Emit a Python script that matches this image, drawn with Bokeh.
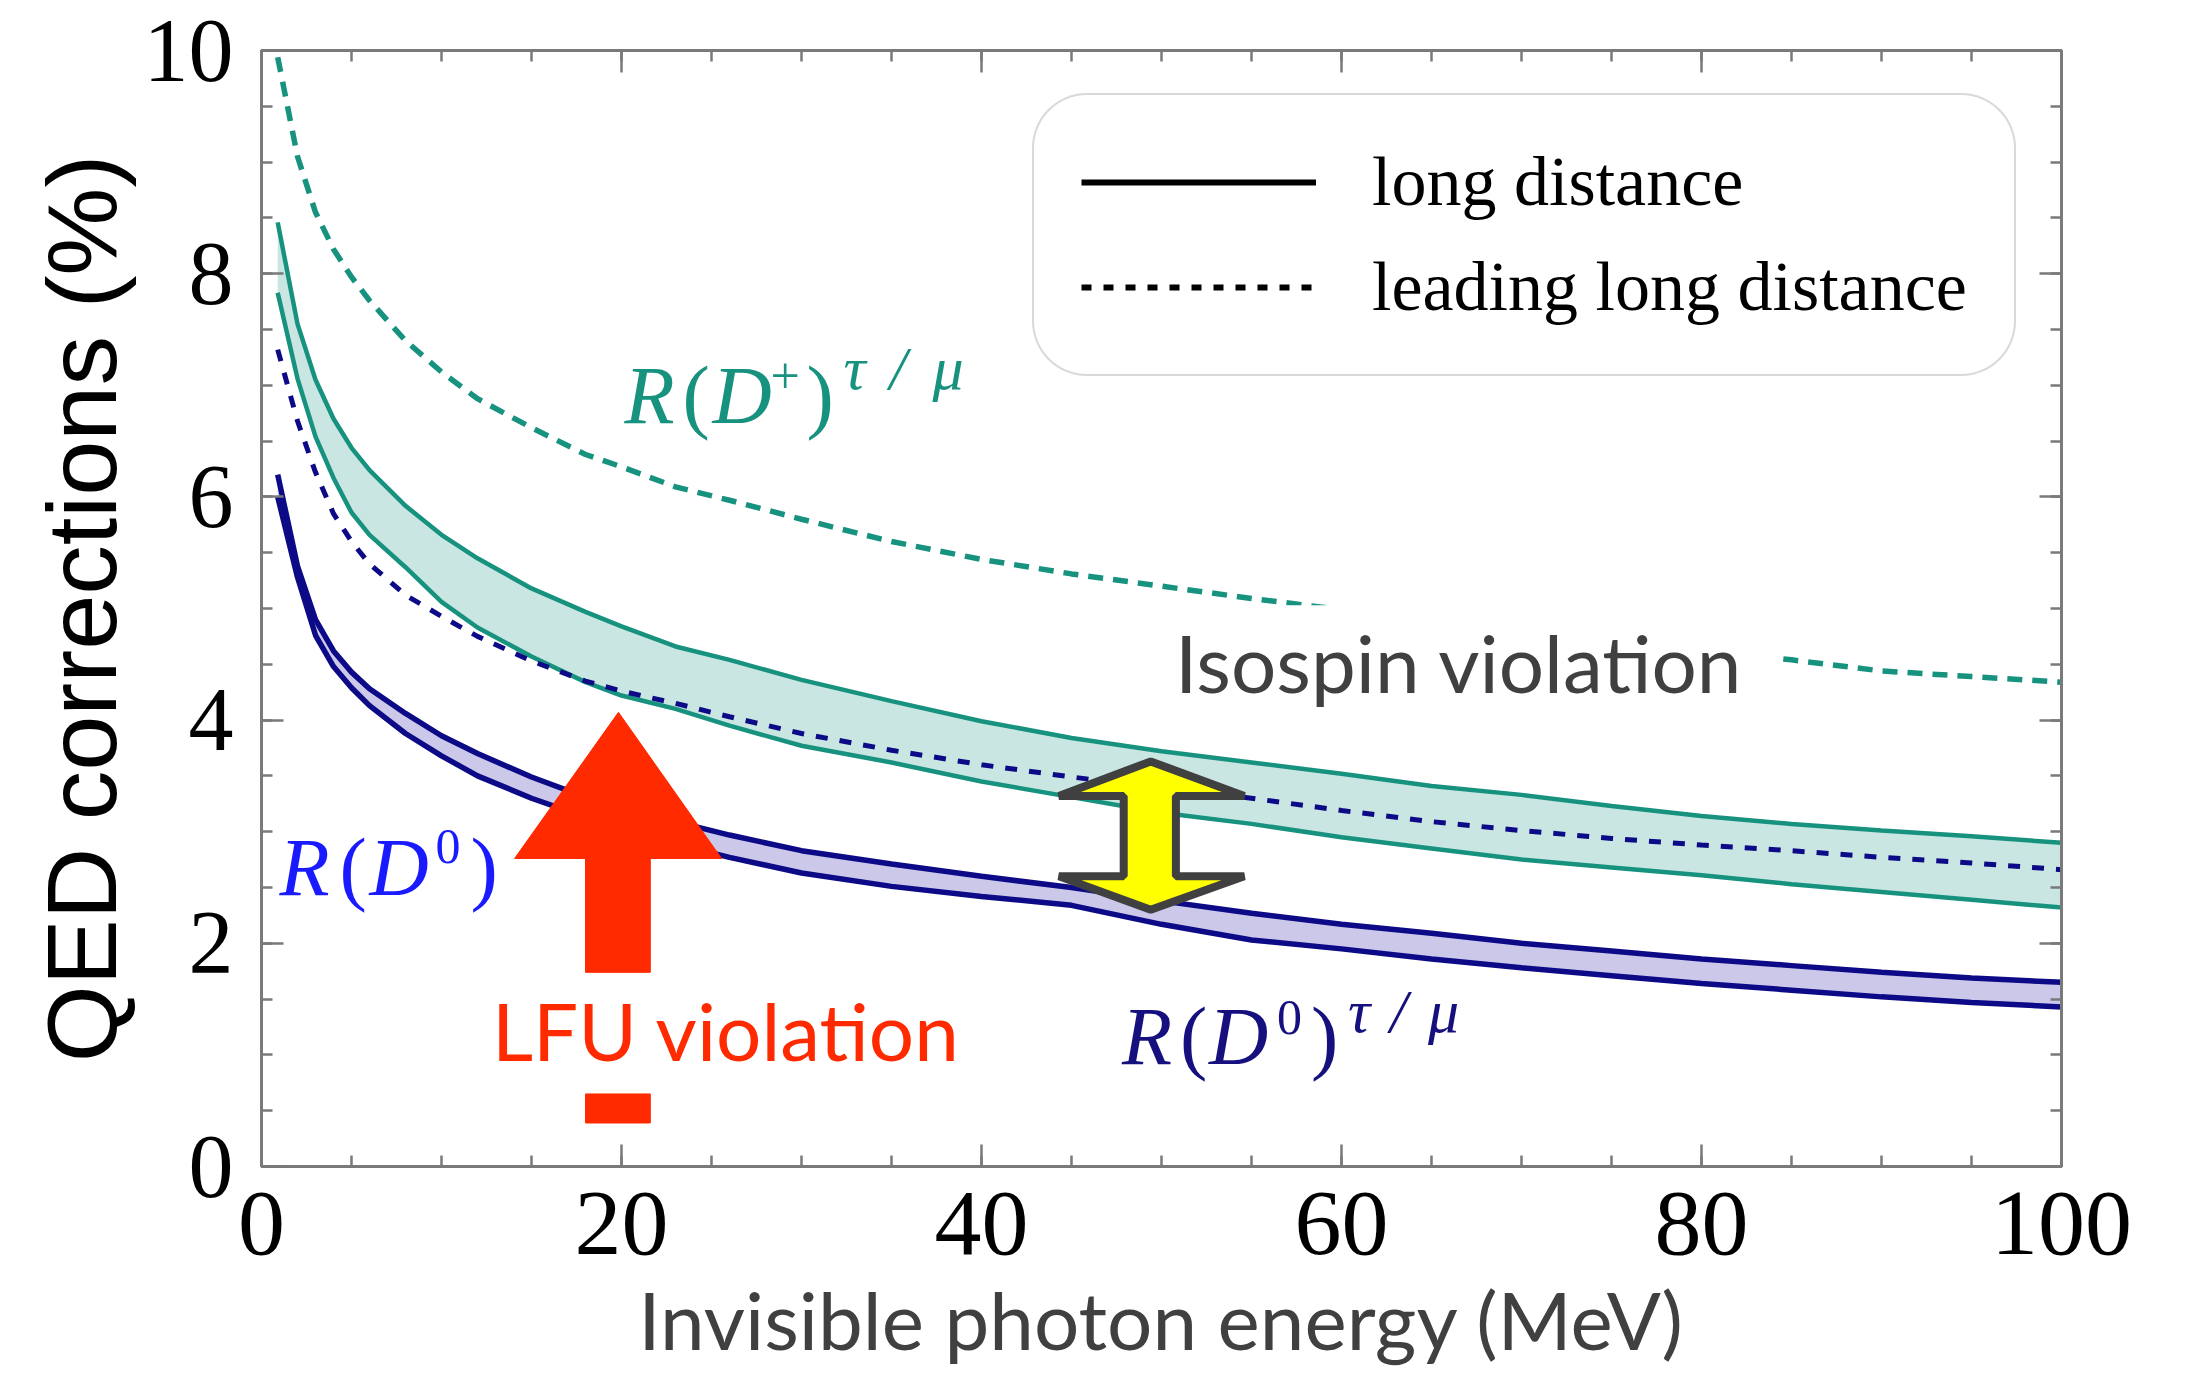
from bokeh.plotting import figure
from bokeh.models import (Range1d, LinearAxis, SingleIntervalTicker, Label,
                          Legend, LegendItem, CustomJSTickFormatter)
from bokeh.embed import file_html
from bokeh.resources import INLINE

# ---------------- data ----------------
energy = [0.9, 2, 3, 4, 5, 6, 8, 10, 12, 15, 18, 20, 23, 26, 30, 35, 40, 45,
          50, 55, 60, 65, 70, 75, 80, 85, 90, 95, 100]

# R(D+)^{tau/mu}, leading long distance (teal dashed)
rdp_leading = [9.94, 9.05, 8.55, 8.22, 7.97, 7.76, 7.40, 7.12, 6.88, 6.62, 6.38,
               6.27, 6.09, 5.97, 5.80, 5.60, 5.44, 5.31, 5.20, 5.09, 4.99, 4.90,
               4.81, 4.72, 4.63, 4.54, 4.44, 4.39, 4.34]
# R(D+)^{tau/mu}, long distance band (teal)
rdp_upper = [8.46, 7.55, 7.05, 6.70, 6.44, 6.24, 5.92, 5.66, 5.45, 5.18, 4.97,
             4.84, 4.66, 4.54, 4.36, 4.17, 3.99, 3.84, 3.72, 3.62, 3.52, 3.41,
             3.33, 3.23, 3.14, 3.07, 3.01, 2.96, 2.90]
rdp_lower = [7.83, 7.06, 6.54, 6.17, 5.86, 5.66, 5.37, 5.06, 4.83, 4.57, 4.34,
             4.22, 4.10, 3.95, 3.77, 3.62, 3.45, 3.31, 3.17, 3.07, 2.95, 2.85,
             2.75, 2.68, 2.61, 2.53, 2.46, 2.39, 2.32]
# R(D0)^{tau/mu}, leading long distance (navy dashed)
rd0_leading = [7.32, 6.68, 6.22, 5.85, 5.60, 5.40, 5.12, 4.93, 4.75, 4.53, 4.35,
               4.26, 4.15, 4.03, 3.88, 3.73, 3.60, 3.49, 3.39, 3.30, 3.19, 3.09,
               3.01, 2.94, 2.88, 2.83, 2.77, 2.72, 2.66]
# R(D0)^{tau/mu}, long distance band (navy)
rd0_upper = [6.20, 5.38, 4.90, 4.62, 4.43, 4.28, 4.06, 3.86, 3.70, 3.49, 3.31,
             3.21, 3.09, 2.97, 2.83, 2.71, 2.60, 2.50, 2.38, 2.27, 2.17, 2.09,
             2.00, 1.93, 1.86, 1.80, 1.74, 1.69, 1.65]
rd0_lower = [6.00, 5.28, 4.76, 4.48, 4.29, 4.13, 3.88, 3.68, 3.50, 3.30, 3.13,
             3.02, 2.89, 2.77, 2.63, 2.51, 2.42, 2.34, 2.17, 2.03, 1.95, 1.86,
             1.78, 1.71, 1.64, 1.58, 1.52, 1.47, 1.43]

legend_labels = ["long distance", "leading long distance"]
x_label = "Invisible photon energy (MeV)"
y_label = "QED corrections (%)"

# annotation shapes (data units)
lfu_arrow_x = [19.83, 25.56, 21.6, 21.6, 18.0, 18.0, 14.06]
lfu_arrow_y = [4.07, 2.76, 2.76, 1.74, 1.74, 2.76, 2.76]
lfu_bar_x = [18.0, 21.6, 21.6, 18.0]
lfu_bar_y = [0.39, 0.39, 0.65, 0.65]
iso_arrow_x = [49.4, 54.6, 50.8, 50.8, 54.6, 49.4, 44.3, 47.9, 47.9, 44.3]
iso_arrow_y = [3.63, 3.32, 3.32, 2.60, 2.60, 2.30, 2.60, 2.60, 3.32, 3.32]

# ---------------- styles ----------------
TEAL = "#17927f"
TEAL_FILL = "#c9e6e2"
NAVY = "#0c0a86"
NAVY_FILL = "#cbc8ea"
FRAME = "#7a7a7a"
SERIF = "Liberation Serif"
NAN = float("nan")
K_SERIF = 0.335   # label anchor -> baseline correction (fraction of font size)
K_LATO = 0.387

p = figure(width=2172, height=1374, x_range=Range1d(0, 100), y_range=Range1d(0, 10),
           output_backend="svg", toolbar_location=None,
           min_border_left=261, min_border_right=111, min_border_top=50,
           min_border_bottom=208)
p.background_fill_color = "white"
p.border_fill_color = "white"
p.outline_line_color = FRAME
p.outline_line_width = 3
p.xgrid.visible = False
p.ygrid.visible = False

bottom_ax = p.below[0]
left_ax = p.left[0]
bottom_ax.ticker = SingleIntervalTicker(interval=20, num_minor_ticks=4)
left_ax.ticker = SingleIntervalTicker(interval=2, num_minor_ticks=4)

blank = CustomJSTickFormatter(code="return ''")
top_ax = LinearAxis(ticker=SingleIntervalTicker(interval=20, num_minor_ticks=4),
                    formatter=blank)
right_ax = LinearAxis(ticker=SingleIntervalTicker(interval=2, num_minor_ticks=4),
                      formatter=blank)

for ax in [bottom_ax, left_ax, top_ax, right_ax]:
    ax.major_tick_in = 22
    ax.major_tick_out = 0
    ax.minor_tick_in = 11
    ax.minor_tick_out = 0
    ax.axis_line_color = FRAME
    ax.axis_line_width = 3
    ax.major_tick_line_color = FRAME
    ax.major_tick_line_width = 2.5
    ax.minor_tick_line_color = FRAME
    ax.minor_tick_line_width = 2.5
    ax.major_label_text_font = SERIF
    ax.major_label_text_color = "black"
    ax.major_label_text_font_size = "94px"

for ax in [top_ax, right_ax]:
    ax.major_label_standoff = 0

left_ax.major_label_text_font_size = "90px"
bottom_ax.major_label_standoff = 26
left_ax.major_label_standoff = 28

bottom_ax.axis_label = x_label
bottom_ax.axis_label_text_font = "Lato"
bottom_ax.axis_label_text_font_style = "normal"
bottom_ax.axis_label_text_font_size = "80px"
bottom_ax.axis_label_text_color = "#404040"
bottom_ax.axis_label_standoff = 14

left_ax.axis_label = y_label
left_ax.axis_label_text_font = "Liberation Sans"
left_ax.axis_label_text_font_style = "normal"
left_ax.axis_label_text_font_size = "99px"
left_ax.axis_label_text_color = "black"
left_ax.axis_label_standoff = 4

p.add_layout(top_ax, "above")
p.add_layout(right_ax, "right")

# ---------------- curves ----------------
p.varea(x=energy, y1=rdp_lower, y2=rdp_upper, fill_color=TEAL_FILL)
p.varea(x=energy, y1=rd0_lower, y2=rd0_upper, fill_color=NAVY_FILL)
p.line(energy, rdp_leading, line_color=TEAL, line_width=5.5, line_dash="15 10")
p.line(energy, rdp_upper, line_color=TEAL, line_width=4.5)
p.line(energy, rdp_lower, line_color=TEAL, line_width=4.5)
p.line(energy, rd0_upper, line_color=NAVY, line_width=5.5)
p.line(energy, rd0_lower, line_color=NAVY, line_width=5.5)
p.line(energy, rd0_leading, line_color=NAVY, line_width=5, line_dash="12 12")

# arrows
p.patch(lfu_arrow_x, lfu_arrow_y, fill_color="#ff2a00", line_color="#ff2a00", line_width=1)
p.patch(lfu_bar_x, lfu_bar_y, fill_color="#ff2a00", line_color="#ff2a00", line_width=1)
p.patch(iso_arrow_x, iso_arrow_y, fill_color="#ffff00", line_color="#404040",
        line_width=8, line_join="bevel")

# ---------------- legend ----------------
r_solid = p.line([NAN], [NAN], line_color="black", line_width=6)
r_dash = p.line([NAN], [NAN], line_color="black", line_width=6, line_dash="10 12")
legend = Legend(items=[LegendItem(label=legend_labels[0], renderers=[r_solid]),
                       LegendItem(label=legend_labels[1], renderers=[r_dash])],
                location=(771, 790))
legend.label_text_font = SERIF
legend.label_text_font_size = "70px"
legend.label_text_color = "black"
legend.glyph_width = 235
legend.glyph_height = 80
legend.label_height = 80
legend.label_standoff = 56
legend.spacing = 25
legend.padding = 47
legend.margin = 0
legend.border_line_color = "#b3b3b3"
legend.border_line_width = 2.5
legend.background_fill_color = "white"
legend.background_fill_alpha = 1.0
if hasattr(Legend, "border_radius"):
    legend.border_radius = 55
p.add_layout(legend)

# ---------------- labels ----------------
def math_label(x, y, color, parts):
    for text, dx, dy, size, style in parts:
        p.add_layout(Label(x=x, y=y, x_offset=dx, y_offset=dy + K_SERIF * size,
                           text=text, text_font=SERIF, text_font_style=style,
                           text_font_size=f"{size}px", text_color=color,
                           text_baseline="alphabetic", text_align="left"))

math_label(20.17, 6.66, TEAL, [("R", 0, 0, 82, "italic"),
                               ("(", 58, 0, 82, "normal"),
                               ("D", 88, 0, 82, "italic"),
                               ("+", 146, 30, 52, "normal"),
                               (")", 182, 0, 82, "normal"),
                               ("τ", 219, 34, 62, "italic"),
                               ("/", 265, 34, 62, "italic"),
                               ("μ", 308, 34, 62, "italic")])
math_label(1.0, 2.43, "#1a1aff", [("R", 0, 0, 82, "italic"),
                                  ("(", 60, 0, 82, "normal"),
                                  ("D", 90, 0, 82, "italic"),
                                  ("0", 156, 32, 50, "normal"),
                                  (")", 191, 0, 82, "normal")])
math_label(47.8, 0.92, "#16107e", [("R", 0, 0, 82, "italic"),
                                   ("(", 58, 0, 82, "normal"),
                                   ("D", 87, 0, 82, "italic"),
                                   ("0", 155, 30, 50, "normal"),
                                   (")", 189, 0, 82, "normal"),
                                   ("τ", 226, 32, 62, "italic"),
                                   ("/", 268, 32, 62, "italic"),
                                   ("μ", 306, 32, 62, "italic")])

p.add_layout(Label(x=50.2, y=4.24, y_offset=K_LATO * 80 + 3,
                   text="Isospin violation", text_font="Lato",
                   text_font_size="80px", text_color="#404040",
                   text_baseline="alphabetic", text_align="left",
                   background_fill_color="white", background_fill_alpha=1.0,
                   padding=dict(left=10, right=38, top=9, bottom=3)))
p.add_layout(Label(x=12.8, y=0.95, y_offset=K_LATO * 80,
                   text="LFU violation", text_font="Lato",
                   text_font_size="80px", text_color="#ff2a00",
                   text_baseline="alphabetic", text_align="left"))

open("out.html", "w").write(file_html(p, INLINE))
